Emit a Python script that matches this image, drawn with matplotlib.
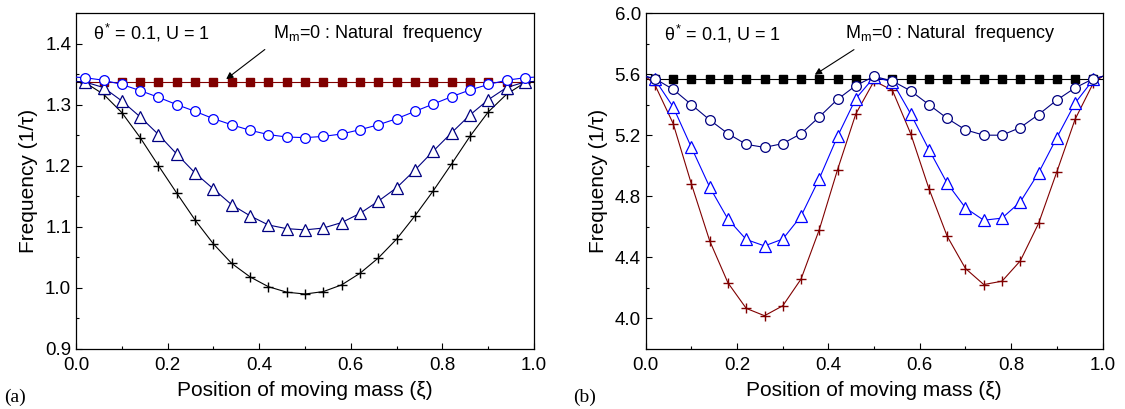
import numpy as np
import matplotlib
matplotlib.use("Agg")
import matplotlib.pyplot as plt
from matplotlib.ticker import MultipleLocator, FormatStrFormatter

plt.rcParams['font.family'] = ['Liberation Sans', 'DejaVu Sans']
plt.rcParams['mathtext.fontset'] = 'custom'
plt.rcParams['mathtext.rm'] = 'Liberation Sans'
plt.rcParams['mathtext.it'] = 'Liberation Sans'

# marker positions along the beam
xi = [0.02, 0.06, 0.10, 0.14, 0.18, 0.22, 0.26, 0.30, 0.34, 0.38, 0.42, 0.46, 0.50,
      0.54, 0.58, 0.62, 0.66, 0.70, 0.74, 0.78, 0.82, 0.86, 0.90, 0.94, 0.98]

# (a) first mode
a_natural = 1.337
a_circle = [1.344, 1.340, 1.333, 1.323, 1.312, 1.300, 1.289, 1.277, 1.267, 1.258, 1.251, 1.247, 1.246,
            1.248, 1.252, 1.259, 1.267, 1.277, 1.289, 1.301, 1.313, 1.324, 1.333, 1.340, 1.344]
a_triangle = [1.337, 1.328, 1.306, 1.280, 1.251, 1.219, 1.188, 1.162, 1.136, 1.118, 1.103, 1.097, 1.095,
              1.098, 1.107, 1.122, 1.142, 1.164, 1.193, 1.224, 1.254, 1.283, 1.308, 1.328, 1.337]
a_cross = [1.336, 1.317, 1.287, 1.246, 1.200, 1.155, 1.111, 1.072, 1.040, 1.018, 1.002, 0.993, 0.990,
           0.994, 1.005, 1.024, 1.049, 1.080, 1.118, 1.159, 1.203, 1.248, 1.288, 1.317, 1.336]
a_ends = {'circle': 1.345, 'triangle': 1.338, 'cross': 1.337}

# (b) second mode
b_natural = 5.57
b_circle = [5.57, 5.50, 5.40, 5.30, 5.21, 5.14, 5.12, 5.145, 5.21, 5.32, 5.435, 5.525, 5.585,
            5.555, 5.49, 5.40, 5.31, 5.235, 5.20, 5.20, 5.25, 5.335, 5.43, 5.51, 5.57]
b_triangle = [5.565, 5.385, 5.12, 4.86, 4.65, 4.517, 4.475, 4.52, 4.67, 4.916, 5.193, 5.44, 5.58,
              5.55, 5.34, 5.106, 4.885, 4.724, 4.643, 4.657, 4.763, 4.953, 5.184, 5.41, 5.565]
b_cross = [5.53, 5.276, 4.88, 4.508, 4.233, 4.066, 4.018, 4.083, 4.258, 4.582, 4.975, 5.34, 5.555,
           5.494, 5.21, 4.85, 4.538, 4.327, 4.222, 4.244, 4.377, 4.622, 4.96, 5.304, 5.542]
b_ends = {'circle': 5.585, 'triangle': 5.585, 'cross': 5.585}

MAROON = '#800000'
NAVY = '#000080'
BLUE = '#0000FF'


def draw_series(ax, y, end, color, marker, ms, z):
    xs = [0.0] + xi + [1.0]
    ys = [end] + list(y) + [end]
    ax.plot(xs, ys, '-', color=color, lw=0.8, zorder=z)
    if marker == '+':
        ax.plot(xi, y, ls='none', marker='+', ms=ms, mew=1.0, color=color, zorder=z + 0.5)
    else:
        ax.plot(xi, y, ls='none', marker=marker, ms=ms, mew=0.9, mec=color, mfc='white',
                zorder=z + 0.5)


def style_axes(ax, ylim, ymajor, yminor):
    ax.set_xlim(0, 1)
    ax.set_ylim(*ylim)
    ax.xaxis.set_major_locator(MultipleLocator(0.2))
    ax.xaxis.set_minor_locator(MultipleLocator(0.1))
    ax.yaxis.set_major_locator(MultipleLocator(ymajor))
    ax.yaxis.set_minor_locator(MultipleLocator(yminor))
    ax.xaxis.set_major_formatter(FormatStrFormatter('%.1f'))
    ax.yaxis.set_major_formatter(FormatStrFormatter('%.1f'))
    ax.tick_params(which='both', direction='in', top=False, right=False, labelsize=13.5)
    ax.tick_params(axis='x', which='major', pad=6)
    ax.tick_params(which='major', length=4, width=0.8)
    ax.tick_params(which='minor', length=2.5, width=0.8)
    for s in ax.spines.values():
        s.set_linewidth(0.9)
    ax.set_xlabel('Position of moving mass (\u03be)', fontsize=15, labelpad=5)
    ax.set_ylabel('Frequency (1/\u03c4)', fontsize=15, labelpad=5)


fig = plt.figure(figsize=(11.25, 4.09), dpi=100)
ax1 = fig.add_axes([0.0676, 0.1467, 0.4071, 0.8215])
ax2 = fig.add_axes([0.574, 0.1467, 0.406, 0.8215])

# panel (a)
ax1.plot([0, 1], [a_natural, a_natural], '-', color=MAROON, lw=0.8, zorder=1)
ax1.plot(xi, [a_natural] * len(xi), ls='none', marker='s', ms=6, color=MAROON, zorder=1.5)
draw_series(ax1, a_cross, a_ends['cross'], 'black', '+', 7, 2)
draw_series(ax1, a_triangle, a_ends['triangle'], NAVY, '^', 8, 3)
draw_series(ax1, a_circle, a_ends['circle'], BLUE, 'o', 7, 4)
style_axes(ax1, (0.9, 1.45), 0.1, 0.05)
ax1.text(0.038, 1.417, r'$\theta^{*}$ = 0.1, U = 1', fontsize=13, va='center')
ax1.text(0.43, 1.417, r'M$_{\mathrm{m}}$=0 : Natural  frequency', fontsize=13, va='center')
ax1.annotate('', xy=(0.323, 1.339), xytext=(0.417, 1.393),
             arrowprops=dict(arrowstyle='-|>', color='black', lw=0.8, mutation_scale=10))

# panel (b)
ax2.plot([0, 1], [b_natural, b_natural], '-', color='black', lw=0.8, zorder=1)
ax2.plot(xi, [b_natural] * len(xi), ls='none', marker='s', ms=6, color='black', zorder=1.5)
draw_series(ax2, b_cross, b_ends['cross'], MAROON, '+', 7, 2)
draw_series(ax2, b_triangle, b_ends['triangle'], BLUE, '^', 8, 3)
draw_series(ax2, b_circle, b_ends['circle'], NAVY, 'o', 7, 4)
style_axes(ax2, (3.8, 6.0), 0.4, 0.2)
ax2.text(0.041, 5.865, r'$\theta^{*}$ = 0.1, U = 1', fontsize=13, va='center')
ax2.text(0.436, 5.865, r'M$_{\mathrm{m}}$=0 : Natural  frequency', fontsize=13, va='center')
ax2.annotate('', xy=(0.365, 5.586), xytext=(0.461, 5.77),
             arrowprops=dict(arrowstyle='-|>', color='black', lw=0.8, mutation_scale=10))

fig.text(0.004, 0.018, '(a)', fontsize=14, family='Liberation Serif')
fig.text(0.509, 0.018, '(b)', fontsize=14, family='Liberation Serif')

fig.savefig('out.png', dpi=100)
